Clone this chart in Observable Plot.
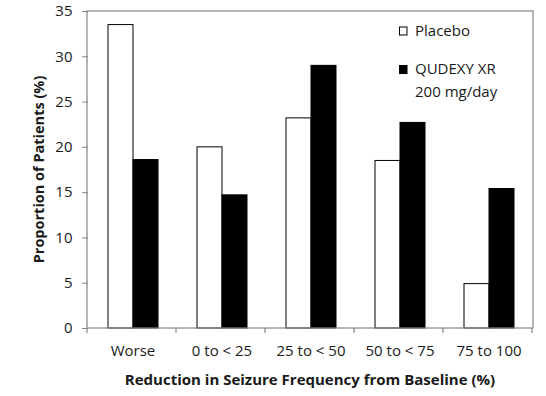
<!DOCTYPE html>
<html><head><meta charset="utf-8">
<script src="https://cdn.jsdelivr.net/npm/d3@7"></script>
<script src="https://cdn.jsdelivr.net/npm/@observablehq/plot@0.6"></script>
<style>body{margin:0;background:#fff}</style>
</head><body><div id="chart"></div>
<script>
const categories = ["Worse", "0 to < 25", "25 to < 50", "50 to < 75", "75 to 100"];
const series = ["Placebo", "QUDEXY XR 200 mg/day"];
const placebo = [33.5, 20.0, 23.2, 18.5, 4.9];
const qudexy = [18.6, 14.7, 29.0, 22.7, 15.4];
const yTicks = [0, 5, 10, 15, 20, 25, 30, 35];
const xTitle = "Reduction in Seizure Frequency from Baseline (%)";
const yTitle = "Proportion of Patients (%)";
const legendItems = [
  {lines: ["Placebo"], fill: "#fff"},
  {lines: ["QUDEXY XR", "200 mg/day"], fill: "#000"}
];

const data = categories.flatMap((c, i) => [
  {cat: c, s: series[0], v: placebo[i]},
  {cat: c, s: series[1], v: qudexy[i]}
]);
const font = "'Open Sans', sans-serif";
const gray = "#858585";

const plot = Plot.plot({
  width: 546, height: 396,
  marginLeft: 87, marginRight: 13, marginTop: 11, marginBottom: 68,
  style: {fontFamily: font, fontSize: "15px", color: "#1a1a1a", background: "#fff"},
  fx: {domain: categories, paddingInner: 0, paddingOuter: 0, label: null},
  x: {domain: series, paddingInner: 0, paddingOuter: 0.715, axis: null},
  y: {domain: [0, 35], axis: null},
  color: {domain: series, range: ["#fff", "#000"]},
  marks: [
    Plot.axisY({ticks: yTicks, tickSize: 6, tickPadding: 10, label: null, stroke: gray, fontSize: 15}),
    Plot.axisFx({anchor: "bottom", tickSize: 0, tickPadding: 17, label: null, fontSize: 15}),
    Plot.barY(data, {fx: "cat", x: "s", y: "v", fill: "s", stroke: "#000", strokeWidth: 1})
  ]
});
document.getElementById("chart").appendChild(plot);

const svg = d3.select(plot);
const fx = plot.scale("fx"), y = plot.scale("y");
const x0 = fx.range[0], x1 = fx.range[1];
const yb = y.range[0], yt = y.range[1];
const deco = svg.append("g");
deco.append("rect").attr("x", x0).attr("y", yt).attr("width", x1 - x0).attr("height", yb - yt)
  .attr("fill", "none").attr("stroke", gray).attr("stroke-width", 1.2);
for (let i = 0; i <= categories.length; i++) {
  const xx = x0 + i * fx.step;
  deco.append("line").attr("x1", xx).attr("x2", xx).attr("y1", yb).attr("y2", yb + 5)
    .attr("stroke", gray).attr("stroke-width", 1.2);
}
deco.append("text").attr("x", (x0 + x1) / 2).attr("y", 385).attr("text-anchor", "middle")
  .attr("font-family", font).attr("font-weight", "bold").attr("font-size", 15).attr("fill", "#1a1a1a").text(xTitle);
deco.append("text").attr("transform", `translate(38,${(yt + yb) / 2}) rotate(-90)`)
  .attr("text-anchor", "middle").attr("dominant-baseline", "central")
  .attr("font-family", font).attr("font-weight", "bold").attr("font-size", 14.5).attr("fill", "#1a1a1a").text(yTitle);

const lg = deco.append("g").attr("font-family", font).attr("font-size", 15).attr("fill", "#1a1a1a")
  .attr("text-anchor", "start");
const lgY = [35.5, 74];
legendItems.forEach((it, i) => {
  lg.append("rect").attr("x", 399.5).attr("y", lgY[i] - 8.5).attr("width", 7.5).attr("height", 8)
    .attr("fill", it.fill).attr("stroke", "#000").attr("stroke-width", 1);
  it.lines.forEach((t, j) => {
    lg.append("text").attr("x", 415).attr("y", lgY[i] + j * 22.5).text(t);
  });
});
</script>
</body></html>
